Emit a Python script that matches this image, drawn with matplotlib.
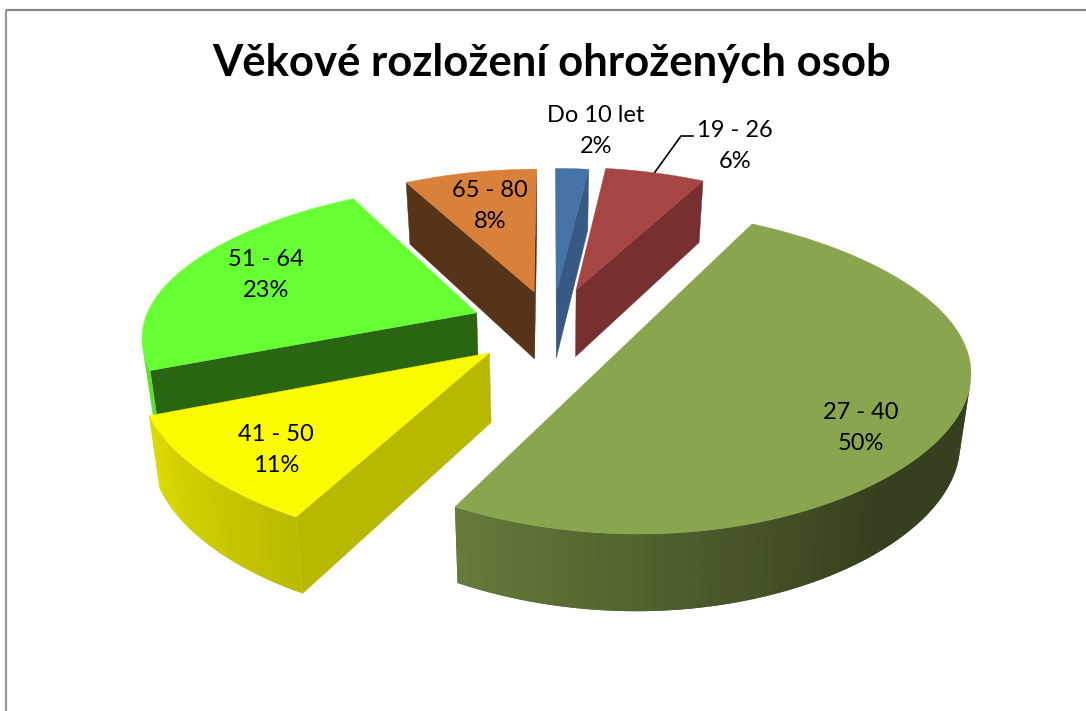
import numpy as np
from matplotlib import pyplot as plt
from matplotlib.patches import Polygon
from matplotlib.colors import to_rgb

title = "Věkové rozložení ohrožených osob"
groups = ["Do 10 let", "19 - 26", "27 - 40", "41 - 50", "51 - 64", "65 - 80"]
shares = [2, 6, 50, 11, 23, 8]
top_colors = ["#4572A7", "#A54644", "#89A54E", "#FAFA00", "#66FF33", "#D9803B"]
face_colors = ["#375A85", "#782F2F", "#66783A", "#B8B800", "#2A6612", "#573318"]
explode = [0.24, 0.26, 0.26, 0.26, 0.26, 0.24]

# camera, fitted by eye against the picture
cx, cy = 552, 326
scale_x, scale_y = 312, 152
persp = 0.158
bulge = 0.07
height = 68.5
bottom_squeeze = 0.974

plt.rcParams['font.family'] = ['Lato', 'DejaVu Sans']
fig = plt.figure(figsize=(10.86, 7.11), dpi=100)
ax = fig.add_axes([0, 0, 1, 1])
ax.set_xlim(0, 1086)
ax.set_ylim(711, 0)
ax.axis('off')


def project(x, y, bottom=False):
    w = 1 + persp * y
    sx = scale_x * x / w
    sy = cy - scale_y * y / w
    if bottom:
        sx = sx * bottom_squeeze
        sy = sy + height / (1 + 0.1 * y)
    return np.array([cx + sx, sy])


def side_light(deg):
    return np.interp(deg, [140, 208.8, 248.4, 300], [0.39, 0.745, 0.88, 0.95])


def area(pts):
    xs, ys = np.array(pts).T
    return np.sum(xs * np.roll(ys, -1) - np.roll(xs, -1) * ys)


def draw_slice(a1, a2, off, top_col, face_col):
    mid = np.radians((a1 + a2) / 2)
    ox, oy = off * np.sin(mid), off * np.cos(mid)
    degs = np.linspace(a1, a2, max(int(a2 - a1), 3) + 1)
    s = np.sin(np.radians(degs))
    rim_x = ox + s * (1 + bulge * s ** 2)
    rim_y = oy + np.cos(np.radians(degs))

    apex_t, apex_b = project(ox, oy), project(ox, oy, True)
    rim_t = [project(x, y) for x, y in zip(rim_x, rim_y)]
    rim_b = [project(x, y, True) for x, y in zip(rim_x, rim_y)]

    # radial walls, only the ones turned to the viewer
    wall1 = [apex_t, rim_t[0], rim_b[0], apex_b]
    wall2 = [apex_t, rim_t[-1], rim_b[-1], apex_b]
    if area(wall1) < 0:
        ax.add_patch(Polygon(wall1, fc=face_col, ec=face_col, lw=0.3))
    if area(wall2) > 0:
        ax.add_patch(Polygon(wall2, fc=face_col, ec=face_col, lw=0.3))

    # outer wall in thin strips for the shading, each one runs under the next
    base = np.array(to_rgb(top_col))
    n = len(degs) - 1
    for i in range(n):
        j = min(i + 2, n)
        quad = [rim_t[i], rim_t[j], rim_b[j], rim_b[i]]
        if area(quad) < 0:
            col = base * side_light((degs[i] + degs[i + 1]) / 2)
            ax.add_patch(Polygon(quad, fc=col, ec='none', lw=0))

    ax.add_patch(Polygon([apex_t] + rim_t, fc=top_col, ec=top_col, lw=0.3))


# back slices first, the nearer ones paint over them
total = sum(shares)
edges = np.cumsum([0] + shares) * 360 / total
order = np.argsort(-np.cos(np.radians((edges[:-1] + edges[1:]) / 2)))
for i in order:
    draw_slice(edges[i], edges[i + 1], explode[i], top_colors[i], face_colors[i])

# frame, only left and top are in the picture
ax.plot([6, 6], [711, 10], color="#9a9a9a", lw=1.6, solid_capstyle='butt')
ax.plot([6, 1086], [10, 10], color="#868686", lw=1.6, solid_capstyle='butt')

ax.text(552, 63, title, ha='center', va='center', fontsize=31.4, fontweight='bold', color='black')

label_xy = [(596, 131), (735, 146), (861, 428), (276, 450), (266, 275), (490, 206)]
for name, share, (x, y) in zip(groups, shares, label_xy):
    ax.text(x, y, "%s\n%d%%" % (name, share), ha='center', va='center', fontsize=17,
            linespacing=1.6, color='black')

# leader line of the 19 - 26 label
ax.plot([655, 681, 693], [172, 136, 136], color='black', lw=1.2)

fig.savefig("out.png", dpi=100)
